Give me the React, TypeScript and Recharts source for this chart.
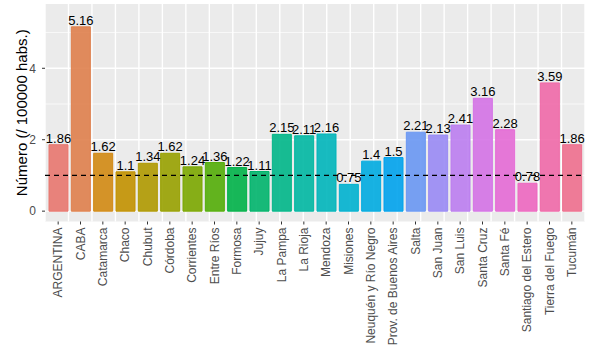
import React from 'react';
import {
  BarChart, Bar, XAxis, YAxis, CartesianGrid, ReferenceLine, LabelList, Cell,
} from 'recharts';

const provinces = [
  'ARGENTINA', 'CABA', 'Catamarca', 'Chaco', 'Chubut', 'Córdoba', 'Corrientes',
  'Entre Ríos', 'Formosa', 'Jujuy', 'La Pampa', 'La Rioja', 'Mendoza', 'Misiones',
  'Neuquén y Río Negro', 'Prov. de Buenos Aires', 'Salta', 'San Juan', 'San Luis',
  'Santa Cruz', 'Santa Fé', 'Santiago del Estero', 'Tierra del Fuego', 'Tucumán',
];
const rates = [
  1.86, 5.16, 1.62, 1.1, 1.34, 1.62, 1.24, 1.36, 1.22, 1.11, 2.15, 2.11, 2.16, 0.75,
  1.4, 1.5, 2.21, 2.13, 2.41, 3.16, 2.28, 0.78, 3.59, 1.86,
];
const yTicks = [0, 2, 4];
const yMinor = [1, 3, 5];
const yDomain = [-0.29, 5.8];
const reference = 1;

// ggplot-like hue palette, a bit muted to match the picture
function hcl(h: number, C = 86, L = 63): string {
  const rad = (h * Math.PI) / 180;
  const U = C * Math.cos(rad), V = C * Math.sin(rad);
  const Y = Math.pow((L + 16) / 116, 3);
  const u = U / (13 * L) + 0.1978398;
  const v = V / (13 * L) + 0.4683363;
  const X = (9 * Y * u) / (4 * v);
  const Z = (Y * (12 - 3 * u - 20 * v)) / (4 * v);
  const lin = [
    3.240479 * X - 1.53715 * Y - 0.498535 * Z,
    -0.969256 * X + 1.875992 * Y + 0.041556 * Z,
    0.055648 * X - 0.204043 * Y + 1.057311 * Z,
  ];
  return '#' + lin.map(c => {
    const g = c <= 0.0031308 ? 12.92 * c : 1.055 * Math.pow(c, 1 / 2.4) - 0.055;
    const n = Math.round(Math.min(1, Math.max(0, g)) * 255);
    return n.toString(16).padStart(2, '0');
  }).join('');
}

const palette = provinces.map((_, i) => hcl(15 + (360 / provinces.length) * i));
const data = provinces.map((name, i) => ({ name, value: rates[i] }));

// hidden numeric axis, only used to put vertical grid lines in the middle of each band
const gridIndex = provinces.map((_, i) => i);

const font = '"Liberation Sans", Arial, Helvetica, sans-serif';

const XTick = ({ x, y, payload }: any) => (
  <g transform={`translate(${x},${y})`}>
    <text transform="rotate(-90)" x={-1} y={0} dy="0.35em" textAnchor="end"
      fill="#4D4D4D" fontSize={12} fontFamily={font}>
      {payload.value}
    </text>
  </g>
);

export default function App() {
  return (
    <div style={{ position: 'absolute', left: 0, top: 0, width: 600, height: 356, background: '#fff' }}>
      <BarChart width={600} height={356} data={data}
        margin={{ top: 4, right: 15, left: 0, bottom: 0 }}>
        <CartesianGrid fill="#EBEBEB" fillOpacity={1} stroke="#FFFFFF" strokeWidth={1.4}
          xAxisId="grid" syncWithTicks />
        <CartesianGrid stroke="#FFFFFF" strokeWidth={0.7} vertical={false}
          xAxisId="grid" yAxisId="minor" syncWithTicks />
        <XAxis dataKey="name" interval={0} axisLine={false} height={134.5}
          tickSize={3} tickLine={{ stroke: '#333333' }} tick={<XTick />}
          padding={{ left: 2, right: 2 }} />
        <XAxis xAxisId="grid" type="number" domain={[-0.59, 23.59]} ticks={gridIndex}
          interval={0} allowDataOverflow hide />
        <YAxis type="number" domain={yDomain} ticks={yTicks} width={45}
          axisLine={false} tickSize={3} tickMargin={6} tickLine={{ stroke: '#333333' }}
          tick={{ fill: '#4D4D4D', fontSize: 12, fontFamily: font }}
          allowDataOverflow
          label={{ value: 'Número (/ 100000 habs.)', angle: -90, position: 'center', dx: -1,
            style: { fill: '#000', fontSize: 15, fontFamily: font } }} />
        <YAxis yAxisId="minor" type="number" domain={yDomain} ticks={yMinor}
          interval={0} allowDataOverflow hide />
        <Bar dataKey="value" isAnimationActive={false} barSize={19} strokeWidth={1}>
          {data.map((d, i) => (
            <Cell key={d.name} fill={palette[i]} fillOpacity={0.9} stroke={palette[i]} />
          ))}
          <LabelList dataKey="value" position="top" offset={2}
            style={{ fill: '#000', fontSize: 13, fontFamily: font }} />
        </Bar>
        <ReferenceLine y={reference} stroke="#000" strokeWidth={1.2} strokeDasharray="5 4" />
      </BarChart>
    </div>
  );
}
